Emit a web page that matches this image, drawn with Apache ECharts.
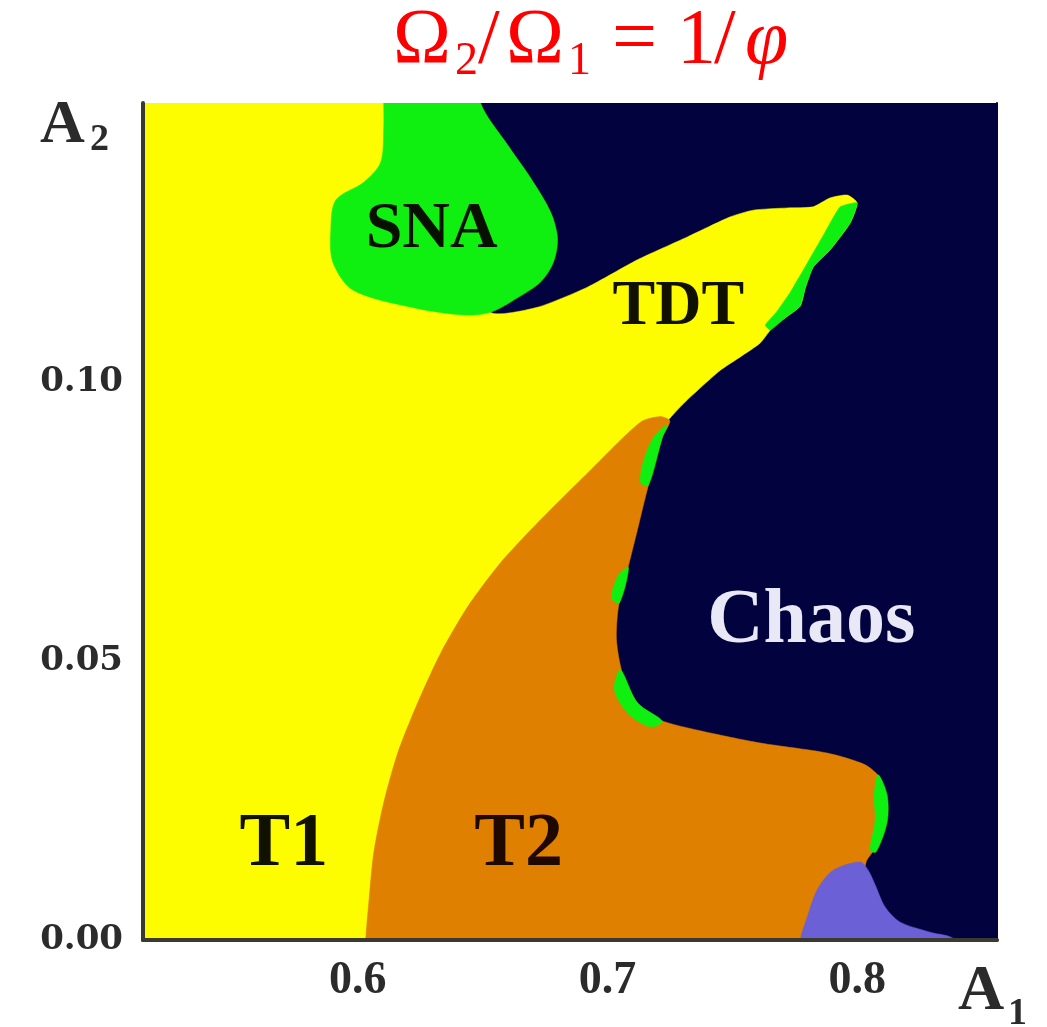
<!DOCTYPE html>
<html><head><meta charset="utf-8">
<script src="https://cdn.jsdelivr.net/npm/echarts@6/dist/echarts.min.js"></script>
<style>html,body{margin:0;padding:0;background:#fff}#c{width:1047px;height:1027px}</style>
</head><body><div id="c"></div>
<script>
// ---- tick labels ----
const xTicks = [0.6, 0.7, 0.8];
const yTicks = [0.00, 0.05, 0.10];

// ---- region boundaries (A1, A2) ----
const chaosRegion = [[0.514,0],[0.856,0],[0.856,0.15],[0.514,0.15]];
const t1Region = [
  [0.500,-0.010],[0.500,0.160],[0.620,0.160],[0.6452,0.1237],[0.6532,0.1125],
  [0.672,0.1134],[0.692,0.1170],[0.712,0.1219],[0.732,0.1260],[0.7492,0.1296],
  [0.7584,0.1308],[0.772,0.1312],[0.7824,0.1314],[0.7892,0.1330],[0.796,0.1335],
  [0.800,0.1321],[0.7972,0.1285],[0.7892,0.1237],[0.7824,0.1206],[0.7792,0.1168],
  [0.7772,0.1136],[0.7712,0.1115],[0.766,0.1097],[0.7612,0.1070],[0.7532,0.1045],
  [0.7452,0.1021],[0.732,0.0968],[0.725,0.0935],[0.7052,0.0824],[0.640,-0.010]
];
const snaRegion = [
  [0.6104,0.156],[0.6492,0.156],[0.6492,0.15],[0.66,0.1425],[0.6692,0.1366],[0.6772,0.1305],
  [0.68,0.1258],[0.6784,0.1215],[0.6732,0.1179],[0.664,0.1151],[0.6532,0.1125],
  [0.6424,0.1120],[0.6224,0.1133],[0.598,0.1165],[0.59,0.1215],[0.5892,0.1272],
  [0.5912,0.1326],[0.6024,0.1358],[0.6092,0.1394],[0.6104,0.1455],[0.6104,0.15]
];
const t2Region = [
  [0.6030,-0.008],[0.6032,0],[0.6044,0.0066],[0.6064,0.0156],[0.6104,0.0246],[0.616,0.0335],
  [0.624,0.0425],[0.6332,0.0514],[0.644,0.0597],[0.6572,0.0676],[0.6732,0.0753],
  [0.6932,0.0842],[0.7132,0.0928],[0.7212,0.0938],[0.725,0.0930],
  [0.722,0.0901],[0.7164,0.0815],[0.712,0.0735],[0.708,0.0663],[0.7044,0.0597],
  [0.7036,0.0538],[0.706,0.0478],[0.712,0.0425],[0.7212,0.0394],[0.7372,0.0375],
  [0.7612,0.0353],[0.788,0.0335],[0.8032,0.0314],[0.8092,0.0290],[0.8108,0.0251],
  [0.8104,0.0215],[0.8072,0.0165],[0.8036,0.0140],[0.7972,0],[0.795,-0.008]
];
const quasiRegion = [
  [0.776,-0.006],[0.7772,0],[0.78,0.0041],[0.784,0.0090],[0.7904,0.0125],[0.8012,0.0140],
  [0.8044,0.0125],[0.8072,0.0099],[0.8112,0.0059],[0.8172,0.0032],[0.8292,0.0014],[0.8392,0],[0.842,-0.006]
];
const snaSliverTongue = [
  [0.800,0.1321],[0.7972,0.1285],[0.7892,0.1237],[0.7824,0.1206],[0.7792,0.1168],
  [0.7772,0.1136],[0.7712,0.1115],[0.7652,0.1093],
  [0.7632,0.1102],[0.7676,0.1125],[0.7732,0.1161],[0.78,0.1213],[0.7872,0.1269],[0.7932,0.1314]
];
const snaSliverTop = [[0.724,0.0923],[0.722,0.0901],[0.7164,0.0815],[0.7132,0.0821],[0.7148,0.0864],[0.7188,0.0903]];
const snaSliverMid = [[0.7084,0.0667],[0.7048,0.0604],[0.7016,0.0613],[0.7044,0.0654]];
const snaSliverLow = [[0.7052,0.0484],[0.712,0.0425],[0.722,0.0392],[0.7172,0.0382],[0.7084,0.0405],[0.7028,0.0448]];
const snaSliverRight = [[0.8084,0.0296],[0.812,0.0260],[0.812,0.0211],[0.8076,0.0158],[0.8052,0.0161],[0.8072,0.0215],[0.8068,0.0260]];

// ---- region labels ----
const regionLabels = [
  [0.5704,0.0170,'T1'],
  [0.6644,0.0170,'T2'],
  [0.6296,0.1272,'SNA'],
  [0.7284,0.1133,'TDT'],
  [0.7816,0.0570,'Chaos']
];

const COLORS = {chaos:'#02023f', t1:'#fdfd00', t2:'#e08000', sna:'#10f010', quasi:'#6b60d6'};
const labelStyle = {
  T1:{fontSize:76,color:'#111100'},
  T2:{fontSize:76,color:'#1e0800'},
  SNA:{fontSize:66,color:'#081000'},
  TDT:{fontSize:64,color:'#111100'},
  Chaos:{fontSize:78,color:'#e8e8f6'}
};

function polySeries(pts, color, smooth) {
  return {
    type:'custom', coordinateSystem:'cartesian2d', clip:true, silent:true,
    data:[[pts[1][0], pts[1][1]]],
    renderItem:function(params, api){
      return {type:'polygon', shape:{points: pts.map(p=>api.coord(p)), smooth: smooth || 0},
        style:{fill:color, stroke:color, lineWidth:0.5}};
    }
  };
}

const serif = '"Liberation Serif","Times New Roman",serif';
const axisCommon = {axisTick:{show:false}, splitLine:{show:false}, z:10};
const frameLine = {show:true, lineStyle:{color:'#3a3a30', width:4}};

const chart = echarts.init(document.getElementById('c'), null, {renderer:'canvas'});
chart.setOption({
  animation:false,
  backgroundColor:'#ffffff',
  grid:{left:143, right:50, top:103, bottom:87},
  xAxis:[
    Object.assign({type:'value', min:0.514, max:0.856, position:'bottom',
      axisLine:frameLine,
      axisLabel:{customValues:xTicks, formatter:v=>v.toFixed(1), fontFamily:serif, fontWeight:'bold', fontSize:46, color:'#2b2b2b', margin:18}}, axisCommon),
    Object.assign({type:'value', min:0.514, max:0.856, position:'top',
      axisLine:{show:true, lineStyle:{color:'#3a3a30', width:3}}, axisLabel:{show:false}}, axisCommon)
  ],
  yAxis:[
    Object.assign({type:'value', min:0, max:0.15, position:'left',
      axisLine:frameLine,
      axisLabel:{customValues:yTicks, formatter:v=>v.toFixed(2), fontFamily:'"DejaVu Serif",serif', fontWeight:'bold', fontSize:34, color:'#2b2b2b', margin:20}}, axisCommon),
    Object.assign({type:'value', min:0, max:0.15, position:'right',
      axisLine:{show:true, lineStyle:{color:'#02023f', width:2}}, axisLabel:{show:false}}, axisCommon)
  ],
  series:[
    polySeries(chaosRegion, COLORS.chaos),
    polySeries(t1Region, COLORS.t1, 0.2),
    polySeries(snaRegion, COLORS.sna, 0.3),
    polySeries(t2Region, COLORS.t2, 0.25),
    polySeries(quasiRegion, COLORS.quasi, 0.3),
    polySeries(snaSliverTongue, COLORS.sna, 0.15),
    polySeries(snaSliverTop, COLORS.sna, 0.3),
    polySeries(snaSliverMid, COLORS.sna, 0.3),
    polySeries(snaSliverLow, COLORS.sna, 0.3),
    polySeries(snaSliverRight, COLORS.sna, 0.3),
    {
      type:'scatter', symbolSize:0, silent:true, z:5,
      itemStyle:{opacity:1},
      data: regionLabels.map(r=>({value:[r[0],r[1]], name:r[2],
        label:Object.assign({show:true, position:'inside', opacity:1, formatter:r[2], fontFamily:serif, fontWeight:'bold'}, labelStyle[r[2]])}))
    }
  ],
  graphic:[
    // title  Ω2/Ω1 = 1/φ
    {type:'group', children:[
      {type:'text', x:393, y:42, style:{text:'Ω', font:'78px '+serif, fill:'#ff0000', verticalAlign:'middle'}},
      {type:'text', x:455, y:62, style:{text:'2', font:'46px '+serif, fill:'#ff0000', verticalAlign:'middle'}},
      {type:'text', x:478, y:42, style:{text:'/', font:'78px '+serif, fill:'#ff0000', verticalAlign:'middle'}},
      {type:'text', x:506, y:42, style:{text:'Ω', font:'78px '+serif, fill:'#ff0000', verticalAlign:'middle'}},
      {type:'text', x:568, y:62, style:{text:'1', font:'46px '+serif, fill:'#ff0000', verticalAlign:'middle'}},
      {type:'text', x:612, y:42, style:{text:'=', font:'80px '+serif, fill:'#ff0000', verticalAlign:'middle'}},
      {type:'text', x:677, y:42, style:{text:'1', font:'78px '+serif, fill:'#ff0000', verticalAlign:'middle'}},
      {type:'text', x:714, y:42, style:{text:'/', font:'78px '+serif, fill:'#ff0000', verticalAlign:'middle'}},
      {type:'text', x:745, y:42, style:{text:'φ', font:'italic 78px '+serif, fill:'#ff0000', verticalAlign:'middle'}}
    ]},
    // axis names
    {type:'text', x:40, y:126, style:{text:'A', font:'bold 62px '+serif, fill:'#2b2b2b', verticalAlign:'middle'}},
    {type:'text', x:90, y:140, style:{text:'2', font:'bold 38px '+serif, fill:'#2b2b2b', verticalAlign:'middle'}},
    {type:'text', x:958, y:992, style:{text:'A', font:'bold 64px '+serif, fill:'#2b2b2b', verticalAlign:'middle'}},
    {type:'text', x:1008, y:1014, style:{text:'1', font:'bold 38px '+serif, fill:'#2b2b2b', verticalAlign:'middle'}}
  ]
});
</script>
</body></html>
